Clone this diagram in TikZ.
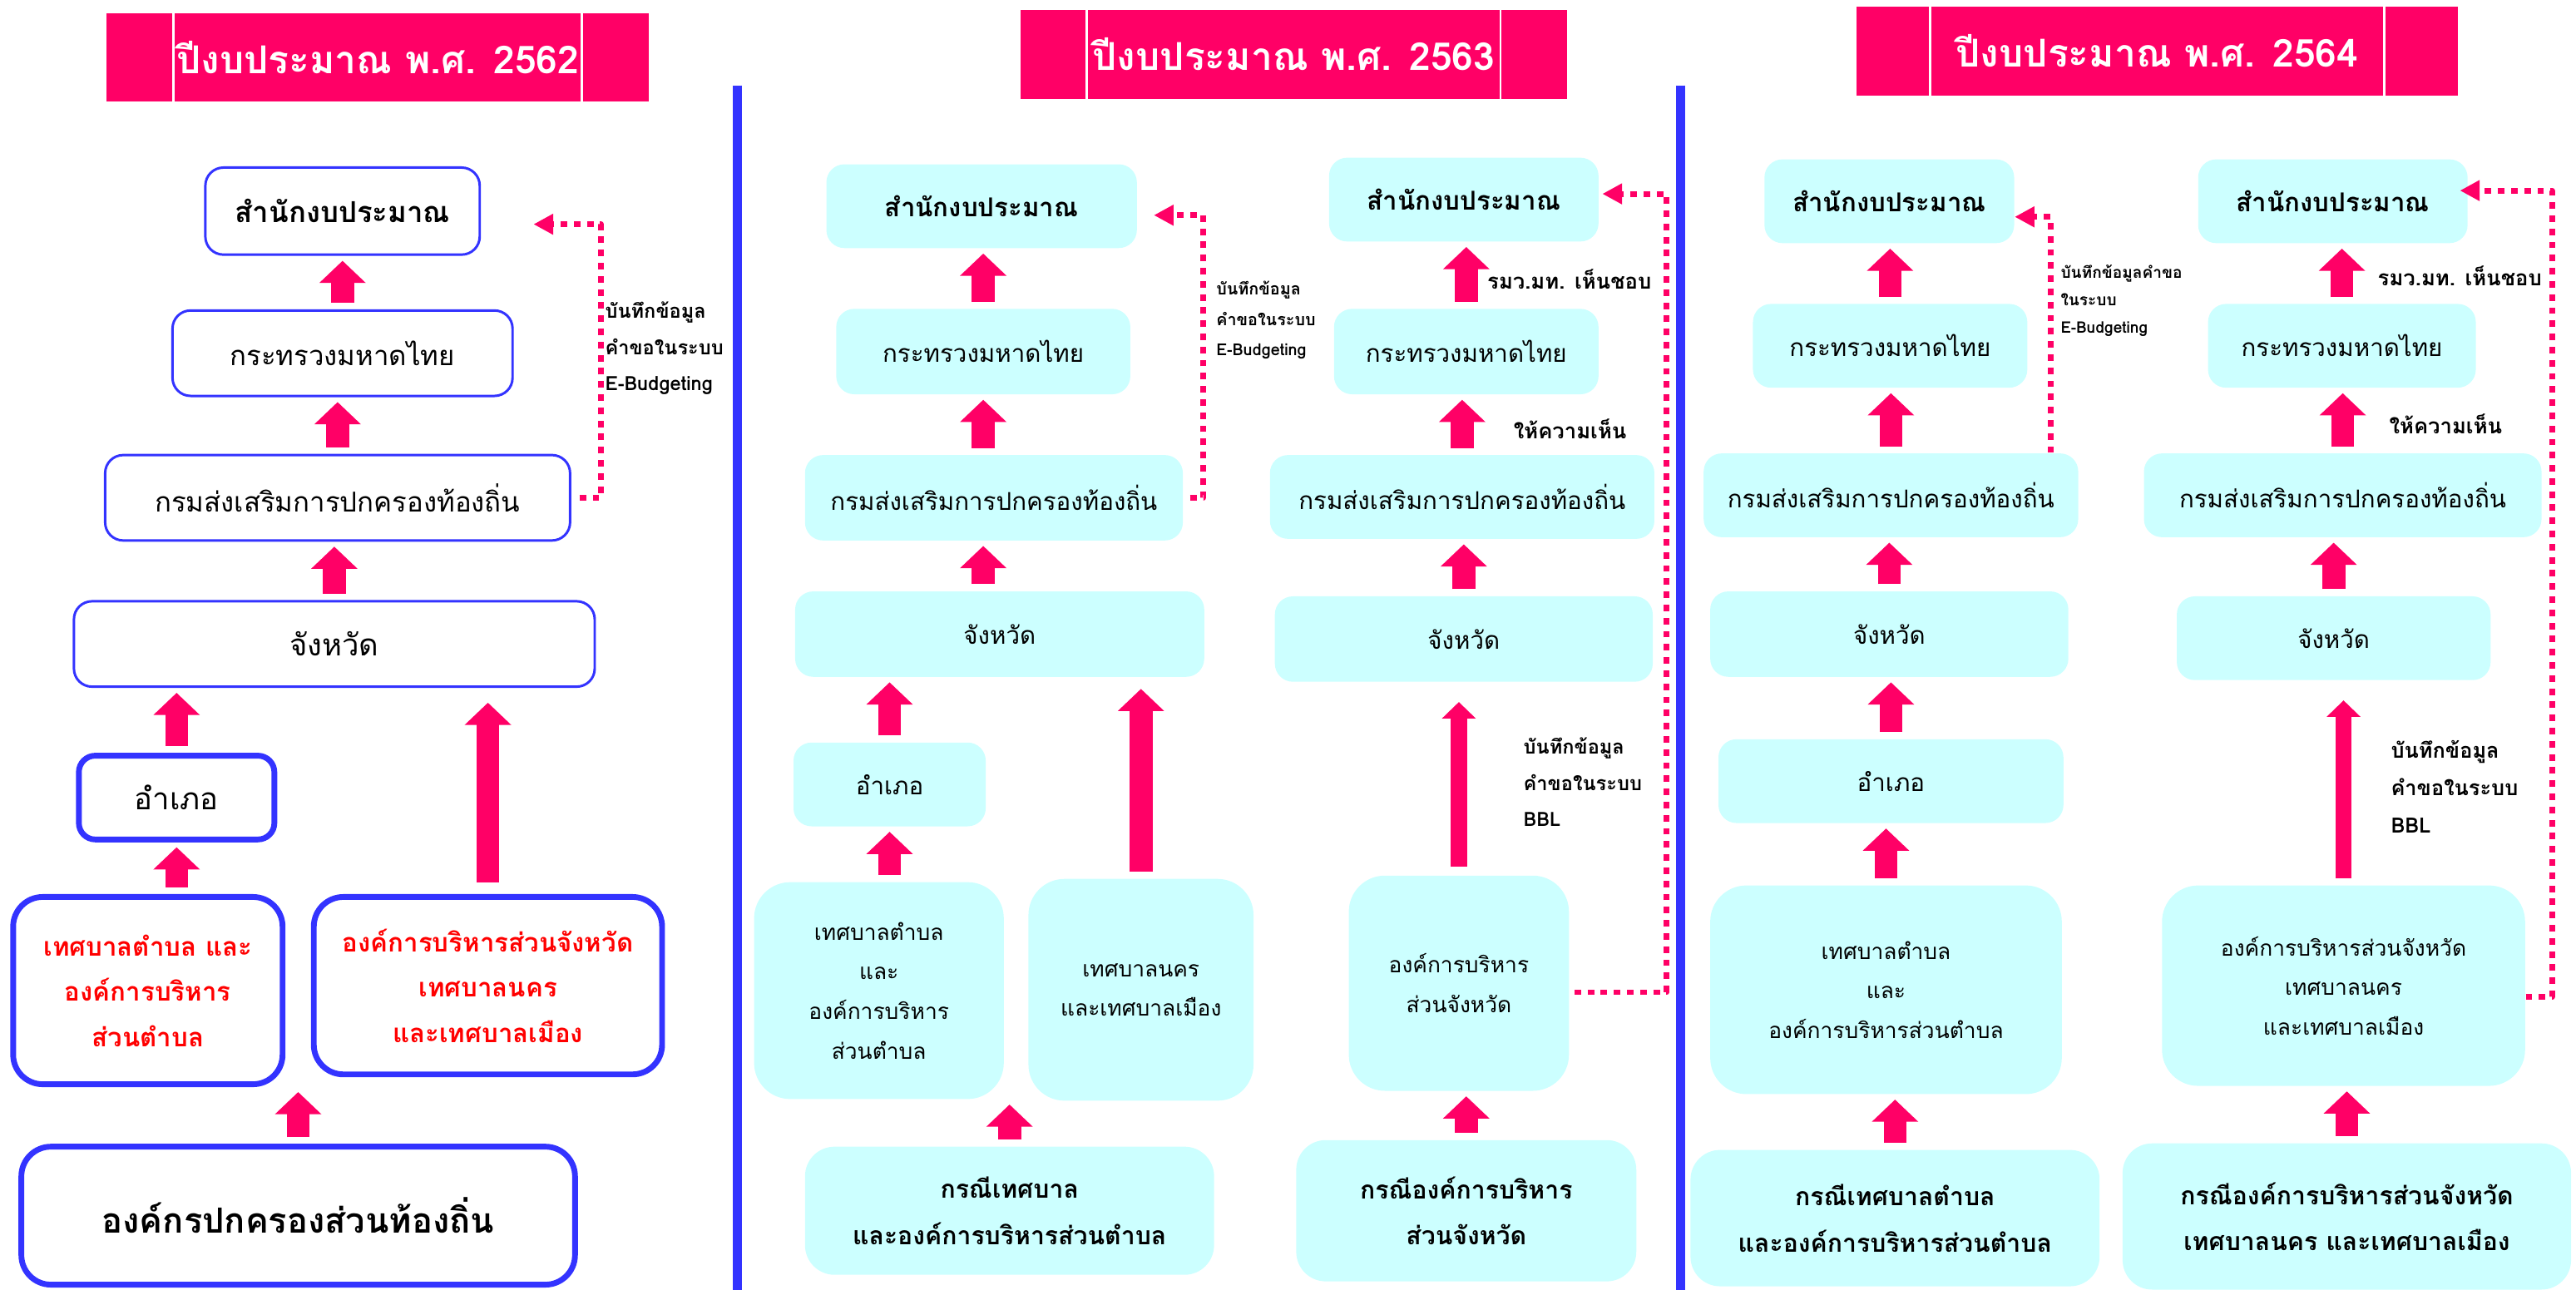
\documentclass[tikz,border=0pt]{standalone}
\usepackage{fontspec}
\newfontfamily\thai[Script=Thai]{Loma}
\usetikzlibrary{arrows.meta,calc}
\definecolor{pinkc}{RGB}{255,0,102}
\definecolor{bluec}{RGB}{51,51,255}
\definecolor{cyanc}{RGB}{204,255,255}
\definecolor{redc}{RGB}{255,0,0}
\newcommand{\fsz}[2]{\thai\fontsize{#1}{#2}\selectfont}

\begin{document}
\begin{tikzpicture}[x=0.02cm, y=-0.02cm, line join=round,
    sz/.style 2 args={minimum width=#1*0.02cm, minimum height=#2*0.02cm},
    titlebox/.style={fill=pinkc, text=white, inner sep=0pt, font=\fsz{13.3}{16}\bfseries},
    oldbox/.style={draw=bluec, fill=white, line width=0.03cm, rounded corners=0.22cm, inner sep=0pt, align=center, font=\fsz{9.5}{13}},
    heavybox/.style={oldbox, line width=0.07cm, rounded corners=0.36cm},
    newbox/.style={fill=cyanc, rounded corners=0.22cm, inner sep=0pt, align=center, font=\fsz{8.5}{13.7}},
    tallbox/.style={newbox, rounded corners=0.44cm, font=\fsz{7.6}{13.7}},
    casebox/.style={newbox, rounded corners=0.36cm, font=\fsz{8.7}{16}\bfseries},
    blockarrow/.style={pinkc, line width=0.28cm, -{Triangle[width=0.55cm,length=0.27cm]}, shorten <=0.08cm, shorten >=0.06cm},
    slimarrow/.style={blockarrow, line width=0.2cm, -{Triangle[width=0.4cm,length=0.2cm]}},
    dotlink/.style={pinkc, line width=0.07cm, dash pattern=on 0.08cm off 0.08cm, -{Triangle[width=0.24cm,length=0.24cm]}},
    note/.style={anchor=west, align=left, inner sep=0pt, font=\fsz{6.8}{12.5}\bfseries}]
    \useasboundingbox (0,0) rectangle (1568,785);

    \foreach \tname/\tx/\ty/\tw/\tin/\tyear in {t1/230/35/330/41/2562, t2/787.5/33/333/41/2563, t3/1313/31/366/45/2564} {
        \node[titlebox, sz={\tw}{54}] (\tname) at (\tx,\ty) {ปีงบประมาณ พ.ศ. \tyear};
        \draw[white, line width=0.03cm] ($(\tname.north west)+(\tin,0)$) -- ($(\tname.south west)+(\tin,0)$);
        \draw[white, line width=0.03cm] ($(\tname.north east)+(-\tin,0)$) -- ($(\tname.south east)+(-\tin,0)$);
    }
    \foreach \dx in {449,1023}
        \draw[bluec, line width=0.11cm] (\dx,52) -- (\dx,785);

    % 2562
    \node[oldbox, sz={167}{53}, font=\fsz{10}{13}\bfseries] (budget1) at (208.5,128.5) {สำนักงบประมาณ};
    \node[oldbox, sz={207}{52}] (moi1) at (208.5,215) {กระทรวงมหาดไทย};
    \node[oldbox, sz={283}{52}] (dla1) at (205.5,303) {กรมส่งเสริมการปกครองท้องถิ่น};
    \node[oldbox, sz={317}{52}, font=\fsz{10.5}{13}] (prov1) at (203.5,392) {จังหวัด};
    \node[heavybox, sz={119}{51}, rounded corners=0.2cm, font=\fsz{10.5}{13}] (amphoe1) at (107.5,485.5) {อำเภอ};
    \node[heavybox, sz={164}{114}, text=redc, font=\fsz{9}{15.7}\bfseries] (tambon1) at (90,603) {เทศบาลตำบล และ\\องค์การบริหาร\\ส่วนตำบล};
    \node[heavybox, sz={212}{108}, text=redc, font=\fsz{9}{15.7}\bfseries] (pao1) at (297,600) {องค์การบริหารส่วนจังหวัด\\เทศบาลนคร\\และเทศบาลเมือง};
    \node[heavybox, sz={337}{84}, font=\fsz{12}{16}\bfseries] (lao1) at (181.5,740) {องค์กรปกครองส่วนท้องถิ่น};

    \draw[blockarrow] (moi1.north) -- (moi1.north |- budget1.south);
    \draw[blockarrow] (dla1.north) -- (dla1.north |- moi1.south);
    \draw[blockarrow] (prov1.north) -- (prov1.north |- dla1.south);
    \draw[blockarrow] (amphoe1.north) -- (amphoe1.north |- prov1.south);
    \draw[blockarrow] (amphoe1.south |- tambon1.north) -- (amphoe1.south);
    \draw[blockarrow, shorten <=0.14cm, shorten >=0.18cm] (pao1.north) -- (pao1.north |- prov1.south);
    \draw[blockarrow] (lao1.north) -- (lao1.north |- tambon1.south);

    \draw[dotlink] ($(dla1.east)+(5,0)$) -| ($(budget1.east)+(73,8)$) -- ($(budget1.east)+(32,8)$);
    \node[note] (rec1) at (368,212) {บันทึกข้อมูล\\คำขอในระบบ\\E-Budgeting};

    % 2563
    \node[newbox, sz={189}{51}, font=\fsz{9}{13}\bfseries] (budget2) at (597.5,125.5) {สำนักงบประมาณ};
    \node[newbox, sz={179}{52}] (moi2) at (598.5,214) {กระทรวงมหาดไทย};
    \node[newbox, sz={230}{52}] (dla2) at (605,303) {กรมส่งเสริมการปกครองท้องถิ่น};
    \node[newbox, sz={249}{52}] (prov2) at (608.5,386) {จังหวัด};
    \node[newbox, sz={117}{51}] (amphoe2) at (541.5,477.5) {อำเภอ};
    \node[tallbox, sz={152}{132}] (tambon2) at (535,603) {เทศบาลตำบล\\และ\\องค์การบริหาร\\ส่วนตำบล};
    \node[tallbox, sz={137}{135}] (city2) at (694.5,602.5) {เทศบาลนคร\\และเทศบาลเมือง};
    \node[casebox, sz={249}{78}] (case2a) at (614.5,737) {กรณีเทศบาล\\และองค์การบริหารส่วนตำบล};
    \node[newbox, sz={164}{51}, font=\fsz{9}{13}\bfseries] (budget2r) at (891,121.5) {สำนักงบประมาณ};
    \node[newbox, sz={161}{52}] (moi2r) at (892.5,214) {กระทรวงมหาดไทย};
    \node[newbox, sz={234}{51}] (dla2r) at (890,302.5) {กรมส่งเสริมการปกครองท้องถิ่น};
    \node[newbox, sz={230}{52}] (prov2r) at (891,389) {จังหวัด};
    \node[tallbox, sz={134}{131}] (pao2) at (888,598.5) {องค์การบริหาร\\ส่วนจังหวัด};
    \node[casebox, sz={207}{86}] (case2b) at (892.5,737) {กรณีองค์การบริหาร\\ส่วนจังหวัด};

    \draw[blockarrow] (moi2.north) -- (moi2.north |- budget2.south);
    \draw[blockarrow] (dla2.north -| moi2.south) -- (moi2.south);
    \draw[blockarrow] (prov2.north -| moi2.south) -- (moi2.south |- dla2.south);
    \draw[blockarrow] (amphoe2.north) -- (amphoe2.north |- prov2.south);
    \draw[blockarrow] (amphoe2.south |- tambon2.north) -- (amphoe2.south);
    \draw[blockarrow, shorten <=0.08cm, shorten >=0.14cm] (city2.north) -- (city2.north |- prov2.south);
    \draw[blockarrow] (case2a.north) -- (case2a.north |- tambon2.south);
    \draw[blockarrow] (moi2r.north) -- (moi2r.north |- budget2r.south);
    \draw[blockarrow] (dla2r.north) -- (dla2r.north |- moi2r.south);
    \draw[blockarrow] (prov2r.north) -- (prov2r.north |- dla2r.south);
    \draw[slimarrow, shorten <=0.1cm, shorten >=0.24cm] (pao2.north) -- (pao2.north |- prov2r.south);
    \draw[blockarrow] (case2b.north) -- (case2b.north |- pao2.south);

    \draw[dotlink] ($(dla2.east)+(4,0)$) -| ($(budget2.east)+(40,5.5)$) -- ($(budget2.east)+(10,5.5)$);
    \draw[dotlink] ($(pao2.east)+(3,5.5)$) -| ($(budget2r.east)+(41,-3.5)$) -- ($(budget2r.east)+(2,-3.5)$);
    \node[note, font=\fsz{5.7}{10.5}\bfseries] (rec2) at (740,195) {บันทึกข้อมูล\\คำขอในระบบ\\E-Budgeting};
    \node[note, font=\fsz{7.4}{12}\bfseries] (ok2) at (905,170) {รมว.มท. เห็นชอบ};
    \node[note, font=\fsz{7.4}{12}\bfseries] (opn2) at (921,261) {ให้ความเห็น};
    \node[note] (bbl2) at (927,476) {บันทึกข้อมูล\\คำขอในระบบ\\BBL};

    % 2564
    \node[newbox, sz={152}{51}, font=\fsz{9}{13}\bfseries] (budget3) at (1150,122.5) {สำนักงบประมาณ};
    \node[newbox, sz={167}{51}] (moi3) at (1150.5,210.5) {กระทรวงมหาดไทย};
    \node[newbox, sz={228}{51}] (dla3) at (1151,301.5) {กรมส่งเสริมการปกครองท้องถิ่น};
    \node[newbox, sz={218}{52}] (prov3) at (1150,386) {จังหวัด};
    \node[newbox, sz={210}{51}] (amphoe3) at (1151,475.5) {อำเภอ};
    \node[tallbox, sz={214}{127}] (tambon3) at (1148,602.5) {เทศบาลตำบล\\และ\\องค์การบริหารส่วนตำบล};
    \node[casebox, sz={249}{83}] (case3a) at (1153.5,741.5) {กรณีเทศบาลตำบล\\และองค์การบริหารส่วนตำบล};
    \node[newbox, sz={164}{51}, font=\fsz{9}{13}\bfseries] (budget3r) at (1420,122.5) {สำนักงบประมาณ};
    \node[newbox, sz={163}{51}] (moi3r) at (1425.5,210.5) {กระทรวงมหาดไทย};
    \node[newbox, sz={242}{51}] (dla3r) at (1426,301.5) {กรมส่งเสริมการปกครองท้องถิ่น};
    \node[newbox, sz={191}{51}] (prov3r) at (1420.5,388.5) {จังหวัด};
    \node[tallbox, sz={221}{122}] (pao3) at (1426.5,600) {องค์การบริหารส่วนจังหวัด\\เทศบาลนคร\\และเทศบาลเมือง};
    \node[casebox, sz={273}{89}] (case3b) at (1428.5,740.5) {กรณีองค์การบริหารส่วนจังหวัด\\เทศบาลนคร และเทศบาลเมือง};

    \draw[blockarrow] (moi3.north) -- (moi3.north |- budget3.south);
    \draw[blockarrow] (dla3.north) -- (dla3.north |- moi3.south);
    \draw[blockarrow] (prov3.north) -- (prov3.north |- dla3.south);
    \draw[blockarrow] (amphoe3.north) -- (amphoe3.north |- prov3.south);
    \draw[blockarrow] (tambon3.north) -- (tambon3.north |- amphoe3.south);
    \draw[blockarrow] (case3a.north) -- (case3a.north |- tambon3.south);
    \draw[blockarrow] (moi3r.north) -- (moi3r.north |- budget3r.south);
    \draw[blockarrow] (dla3r.north) -- (dla3r.north |- moi3r.south);
    \draw[blockarrow] (prov3r.north) -- (prov3r.north |- dla3r.south);
    \draw[slimarrow, shorten <=0.08cm, shorten >=0.24cm] (pao3.north) -- (pao3.north |- prov3r.south);
    \draw[blockarrow] (case3b.north) -- (case3b.north |- pao3.south);

    \draw[dotlink] ($(dla3.north east)+(-17,0)$) |- ($(budget3.east)+(0,9.5)$);
    \draw[dotlink] ($(pao3.east)+(0,7)$) -| ($(budget3r.east)+(51,-6.5)$) -- ($(budget3r.east)+(-5,-6.5)$);
    \node[note, font=\fsz{5.5}{9.4}\bfseries] (rec3) at (1254,183) {บันทึกข้อมูลคำขอ\\ในระบบ\\E-Budgeting};
    \node[note, font=\fsz{7.4}{12}\bfseries] (ok3) at (1447,168) {รมว.มท. เห็นชอบ};
    \node[note, font=\fsz{7.4}{12}\bfseries] (opn3) at (1454,258) {ให้ความเห็น};
    \node[note, font=\fsz{7.3}{13}\bfseries] (bbl3) at (1455,479) {บันทึกข้อมูล\\คำขอในระบบ\\BBL};
\end{tikzpicture}
\end{document}
